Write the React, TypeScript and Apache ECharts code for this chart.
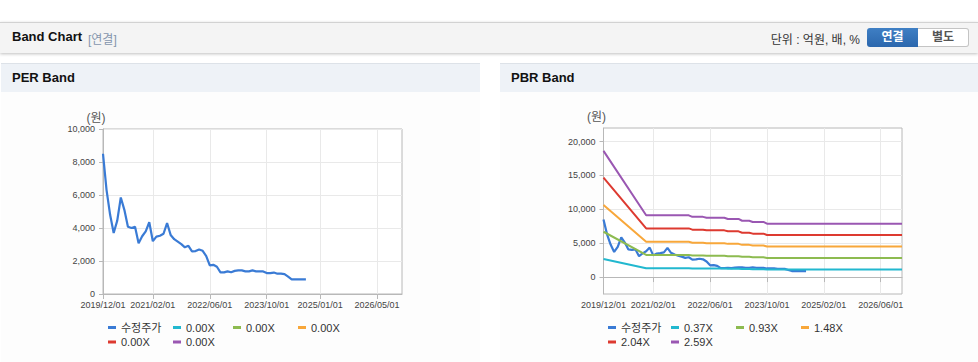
import React, { useEffect, useRef } from 'react';
import * as echarts from 'echarts';

// ---------- data ----------
const START_YEAR = 2019;
const START_MONTH = 12;
const MONTH_COUNT = 85; // 2019/12/01 .. 2026/12/01

const months: string[] = [];
for (let i = 0; i < MONTH_COUNT; i++) {
  const t = START_MONTH - 1 + i;
  const y = START_YEAR + Math.floor(t / 12);
  const m = (t % 12) + 1;
  months.push(`${y}/${String(m).padStart(2, '0')}/01`);
}

const perTickLabels = ['2019/12/01', '2021/02/01', '2022/06/01', '2023/10/01', '2025/01/01', '2026/05/01'];
const pbrTickLabels = ['2019/12/01', '2021/02/01', '2022/06/01', '2023/10/01', '2025/02/01', '2026/06/01'];

// 수정주가, monthly from 2019/12
const adjPrice = [
  8500, 6300, 4800, 3700, 4450, 5850, 5100, 4080, 4000, 4080,
  3080, 3500, 3800, 4350, 3200, 3480, 3530, 3650, 4300, 3580,
  3320, 3170, 3020, 2830, 2920, 2580, 2600, 2700, 2620, 2300,
  1730, 1770, 1650, 1310, 1310, 1370, 1320, 1400, 1430, 1430,
  1370, 1370, 1430, 1370, 1370, 1370, 1270, 1270, 1300, 1230,
  1230, 1200, 1050, 890, 890, 890, 890, 890,
];

// PBR band break points
const bandDates = [
  '2019/12/01', '2020/12/01', '2021/12/01', '2022/01/01', '2022/04/01',
  '2022/05/01', '2022/10/01', '2022/11/01', '2023/02/01', '2023/03/01',
  '2023/05/01', '2023/06/01', '2023/09/01', '2023/10/01', '2026/12/01',
];
const pbrBand037 = [2660, 1302, 1302, 1269, 1269, 1251, 1251, 1225, 1225, 1188, 1188, 1162, 1162, 1125, 1125];
const pbrBand093 = [6687, 3274, 3274, 3190, 3190, 3143, 3143, 3078, 3078, 2985, 2985, 2920, 2920, 2827, 2827];
const pbrBand148 = [10641, 5210, 5210, 5076, 5076, 5002, 5002, 4899, 4899, 4751, 4751, 4647, 4647, 4499, 4499];
const pbrBand204 = [14668, 7181, 7181, 6997, 6997, 6895, 6895, 6752, 6752, 6548, 6548, 6406, 6406, 6202, 6202];
const pbrBand259 = [18622, 9117, 9117, 8884, 8884, 8754, 8754, 8573, 8573, 8314, 8314, 8133, 8133, 7874, 7874];

const perBandLabels = ['0.00X', '0.00X', '0.00X', '0.00X', '0.00X'];
const pbrBandLabels = ['0.37X', '0.93X', '1.48X', '2.04X', '2.59X'];
const priceLabel = '수정주가';

const perYTicks = [0, 2000, 4000, 6000, 8000, 10000];
const pbrYTicks = [0, 5000, 10000, 15000, 20000];

const PRICE_COLOR = '#3a7bd5';
const BAND_COLORS = ['#22b8cf', '#8dbb50', '#f8a73a', '#dd3a30', '#9a57b2'];

const FONT = '"Liberation Sans", Arial, "Noto Sans CJK KR", sans-serif';
const AXIS_COLOR = '#b8b8b8';
const SPLIT_COLOR = '#e9e9e9';
const LABEL_COLOR = '#444';

function buildOption() {
  const pbrBands = [pbrBand037, pbrBand093, pbrBand148, pbrBand204, pbrBand259];

  const xAxisFor = (gridIndex: number, ticks: string[]) => {
    const show = (_i: number, v: string) => ticks.includes(v);
    return {
      gridIndex,
      type: 'category',
      data: months,
      boundaryGap: false,
      axisLine: { show: true, lineStyle: { color: AXIS_COLOR } },
      axisTick: { show: true, interval: show, length: 5, lineStyle: { color: AXIS_COLOR } },
      axisLabel: { interval: show, fontSize: 9, color: LABEL_COLOR, margin: 6, fontFamily: FONT },
      splitLine: { show: true, interval: show, lineStyle: { color: SPLIT_COLOR } },
    };
  };

  const fmt = (v: number) => v.toLocaleString('en-US');

  const yName = {
    name: '(원)',
    nameLocation: 'end',
    nameGap: 5,
    nameTextStyle: { color: '#555', fontSize: 12, fontFamily: FONT, padding: [0, 14, 0, 0] },
  };

  const series: any[] = [];
  const legends: any[] = [];
  const labelMap: Record<string, string> = {};

  const legendFor = (name: string, label: string, left: number, top: number) => {
    labelMap[name] = label;
    legends.push({
      data: [name],
      left,
      top,
      padding: 0,
      itemWidth: 8,
      itemHeight: 3,
      itemGap: 0,
      icon: 'rect',
      selectedMode: false,
      formatter: (n: string) => labelMap[n],
      textStyle: { fontSize: 11, color: '#333', fontFamily: FONT },
    });
  };

  // PER chart
  series.push({
    name: 'PER_price', type: 'line', xAxisIndex: 0, yAxisIndex: 0, data: adjPrice,
    showSymbol: false, symbol: 'none', color: PRICE_COLOR, lineStyle: { width: 2.2, color: PRICE_COLOR }, z: 3,
  });
  perBandLabels.forEach((_l, i) => {
    series.push({
      name: `PER_b${i}`, type: 'line', xAxisIndex: 0, yAxisIndex: 0, data: [],
      showSymbol: false, symbol: 'none', color: BAND_COLORS[i], lineStyle: { width: 2, color: BAND_COLORS[i] },
    });
  });
  // PBR chart
  series.push({
    name: 'PBR_price', type: 'line', xAxisIndex: 1, yAxisIndex: 1, data: adjPrice,
    showSymbol: false, symbol: 'none', color: PRICE_COLOR, lineStyle: { width: 2.2, color: PRICE_COLOR }, z: 3,
  });
  pbrBands.forEach((band, i) => {
    series.push({
      name: `PBR_b${i}`, type: 'line', xAxisIndex: 1, yAxisIndex: 1,
      data: band.map((v, k) => [bandDates[k], v]),
      showSymbol: false, symbol: 'none', color: BAND_COLORS[i], lineStyle: { width: 2, color: BAND_COLORS[i] },
    });
  });

  const row1 = 230;
  const row2 = 244.5;
  const perCols = [108, 173, 233, 298];
  const pbrCols = [608, 671, 736, 801];
  const place = (prefix: string, labels: string[], cols: number[]) => {
    const names = [`${prefix}_price`, ...labels.map((_l, i) => `${prefix}_b${i}`)];
    const texts = [priceLabel, ...labels];
    names.forEach((n, i) => {
      const col = i % 4;
      const row = Math.floor(i / 4);
      legendFor(n, texts[i], cols[col], row === 0 ? row1 : row2);
    });
  };
  place('PER', perBandLabels, perCols);
  place('PBR', pbrBandLabels, pbrCols);

  return {
    animation: false,
    textStyle: { fontFamily: FONT },
    grid: [
      { left: 103, top: 37, width: 299, height: 165, show: true, borderColor: AXIS_COLOR, borderWidth: 1, backgroundColor: '#fff' },
      { left: 603.5, top: 36, width: 298.5, height: 166, show: true, borderColor: AXIS_COLOR, borderWidth: 1, backgroundColor: '#fff' },
    ],
    xAxis: [xAxisFor(0, perTickLabels), xAxisFor(1, pbrTickLabels)],
    yAxis: [
      {
        gridIndex: 0, type: 'value', min: 0, max: 10000, interval: 2000, ...yName,
        axisLine: { show: true, lineStyle: { color: AXIS_COLOR } },
        axisTick: { show: true, length: 4, lineStyle: { color: AXIS_COLOR } },
        axisLabel: { fontSize: 9, color: LABEL_COLOR, margin: 8, fontFamily: FONT, formatter: fmt, customValues: perYTicks },
        splitLine: { show: true, lineStyle: { color: SPLIT_COLOR } },
      },
      {
        gridIndex: 1, type: 'value', min: -2500, max: 22000, ...yName,
        axisLine: { show: true, lineStyle: { color: AXIS_COLOR } },
        axisTick: { show: true, length: 4, lineStyle: { color: AXIS_COLOR }, customValues: pbrYTicks },
        axisLabel: { fontSize: 9, color: LABEL_COLOR, margin: 8, fontFamily: FONT, formatter: fmt, customValues: pbrYTicks },
        splitLine: { show: true, lineStyle: { color: SPLIT_COLOR } },
      },
    ],
    legend: legends,
    series,
  };
}

export default function App() {
  const ref = useRef<HTMLDivElement>(null);
  useEffect(() => {
    if (!ref.current) return;
    const chart = echarts.init(ref.current, undefined, { renderer: 'svg' });
    chart.setOption(buildOption() as any);
    return () => chart.dispose();
  }, []);

  const base: React.CSSProperties = { position: 'absolute', boxSizing: 'border-box' };
  return (
    <div style={{ position: 'absolute', left: 0, top: 0, width: 978, height: 362, background: '#fff', fontFamily: FONT, overflow: 'hidden' }}>
      {/* header bar */}
      <div style={{ ...base, left: 0, top: 22, width: 978, height: 31, background: '#f4f4f4', borderTop: '1px solid #d2d2d2', boxShadow: '0 1px 3px rgba(0,0,0,0.25)' }}>
        <span style={{ position: 'absolute', left: 12, top: 6, fontSize: 13, fontWeight: 'bold', color: '#111' }}>Band Chart</span>
        <span style={{ position: 'absolute', left: 88, top: 7, fontSize: 12, color: '#8596ad' }}>[연결]</span>
        <span style={{ position: 'absolute', right: 118, top: 7, fontSize: 12, color: '#333' }}>단위 : 억원, 배, %</span>
        <div style={{ ...base, left: 867, top: 5, width: 51, height: 19, background: 'linear-gradient(#3f7fc4, #2b67ad)', borderRadius: '3px 0 0 3px', color: '#fff', fontSize: 12, fontWeight: 'bold', textAlign: 'center', lineHeight: '19px' }}>연결</div>
        <div style={{ ...base, left: 918, top: 5, width: 51, height: 19, background: '#fff', border: '1px solid #c4c4c4', borderLeft: 'none', borderRadius: '0 3px 3px 0', color: '#555', fontSize: 12, fontWeight: 'bold', textAlign: 'center', lineHeight: '17px' }}>별도</div>
      </div>
      {/* panels */}
      <div style={{ ...base, left: 1, top: 92, width: 479, height: 270, background: '#fdfdfd' }} />
      <div style={{ ...base, left: 500, top: 92, width: 478, height: 270, background: '#fdfdfd' }} />
      <div style={{ ...base, left: 1, top: 63, width: 479, height: 29, background: '#eef2f7', borderTop: '1px solid #dde2e8' }}>
        <span style={{ position: 'absolute', left: 11, top: 6, fontSize: 13, fontWeight: 'bold', color: '#111' }}>PER Band</span>
      </div>
      <div style={{ ...base, left: 500, top: 63, width: 478, height: 29, background: '#eef2f7', borderTop: '1px solid #dde2e8' }}>
        <span style={{ position: 'absolute', left: 11, top: 6, fontSize: 13, fontWeight: 'bold', color: '#111' }}>PBR Band</span>
      </div>
      <div ref={ref} style={{ position: 'absolute', left: 0, top: 92, width: 978, height: 270 }} />
    </div>
  );
}
